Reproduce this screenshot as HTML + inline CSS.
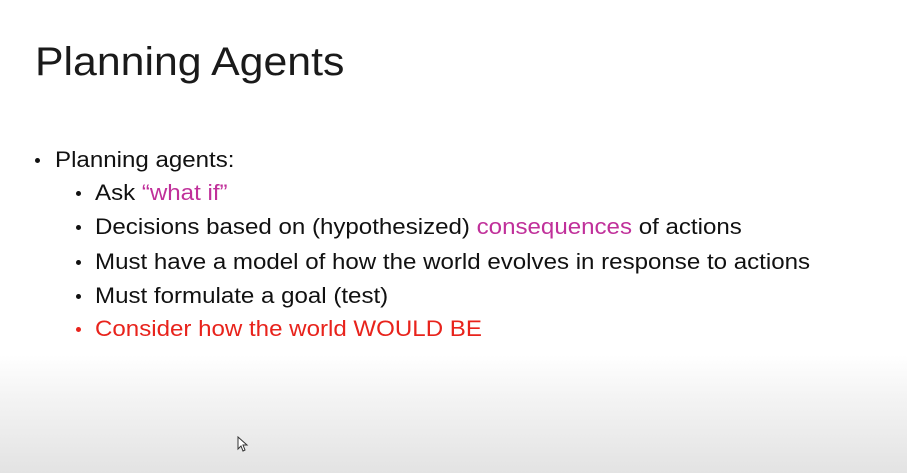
<!DOCTYPE html>
<html><head><style>
body{margin:0;width:907px;height:473px;overflow:hidden;position:relative;
background:linear-gradient(to bottom,#fff 0,#fff 355px,#f3f3f3 400px,#e3e3e3 473px);
font-family:"Liberation Sans",sans-serif;color:#111}
.t{position:absolute;white-space:nowrap;line-height:1;transform-origin:0 0;transform:scaleX(1.095);font-size:22px}
.b{position:absolute;width:5px;height:5px;border-radius:50%;background:#111}
.p{color:#c0309a}.r{color:#e8231c}
</style></head><body>
<div class="t" style="left:35px;top:42px;font-size:40px;color:#1a1a1a;transform:scaleX(1.07)">Planning Agents</div>
<div class="b" style="left:35px;top:158px"></div>
<div class="t" style="left:55px;top:149px">Planning agents:</div>
<div class="b" style="left:76px;top:191px"></div>
<div class="t" style="left:95px;top:182px">Ask <span class="p">“what if”</span></div>
<div class="b" style="left:76px;top:225px"></div>
<div class="t" style="left:95px;top:216px">Decisions based on (hypothesized) <span class="p">consequences</span> of actions</div>
<div class="b" style="left:76px;top:260px"></div>
<div class="t" style="left:95px;top:251px">Must have a model of how the world evolves in response to actions</div>
<div class="b" style="left:76px;top:294px"></div>
<div class="t" style="left:95px;top:285px">Must formulate a goal (test)</div>
<div class="b" style="left:76px;top:327px;background:#e8231c"></div>
<div class="t r" style="left:95px;top:318px">Consider how the world WOULD BE</div>
<svg style="position:absolute;left:237px;top:436px" width="12" height="16"><path d="M1 1 L1 13 L4 10 L6 15 L8 14 L6 9 L10 9 Z" fill="#fff" stroke="#333" stroke-width="1"/></svg>
</body></html>
